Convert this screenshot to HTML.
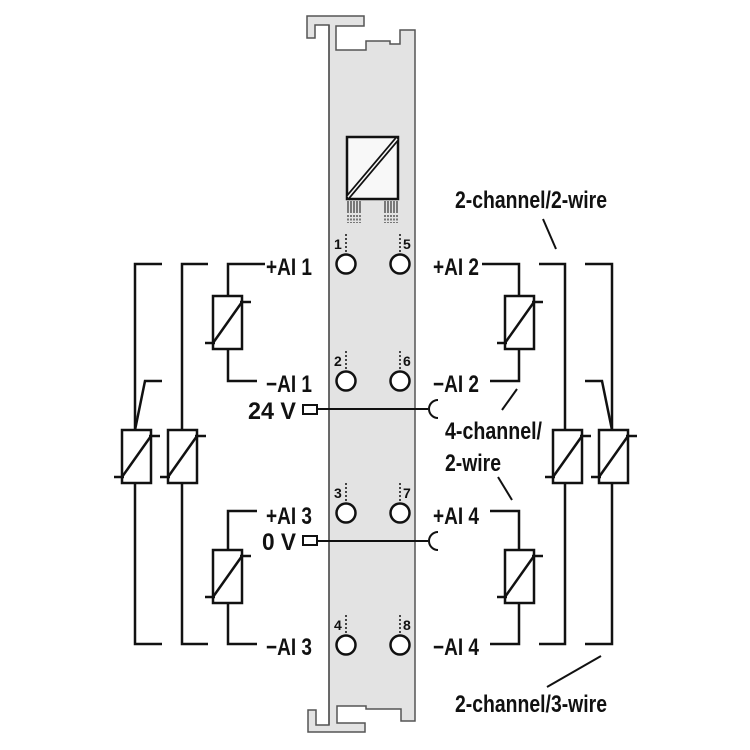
<!DOCTYPE html>
<html><head><meta charset="utf-8"><style>
html,body{margin:0;padding:0;background:#fff}
svg{display:block}
text{font-family:"Liberation Sans",sans-serif;font-size:24px;fill:#111;font-weight:bold}
text.n{font-size:14px}
</style></head><body>
<svg width="750" height="750" viewBox="0 0 750 750" xmlns="http://www.w3.org/2000/svg">
<defs>
<g id="res">
<rect x="0" y="0" width="29" height="53" fill="#fff" stroke="#111" stroke-width="2.5"/>
<line x1="0" y1="47" x2="29" y2="6" stroke="#111" stroke-width="2.5"/>
<line x1="-8" y1="47" x2="2" y2="47" stroke="#111" stroke-width="2.5"/>
<line x1="27" y1="6" x2="38" y2="6" stroke="#111" stroke-width="2.5"/>
</g>
<g id="side" fill="none" stroke="#111" stroke-width="2.5">
<polyline points="265,264 228,264 228,297"/>
<polyline points="228,349 228,381 257,381"/>
<polyline points="257,511 228,511 228,550"/>
<polyline points="228,604 228,644 257,644"/>
<polyline points="208,264 182,264 182,430"/>
<polyline points="182,483 182,644 208,644"/>
<polyline points="162,264 135,264 135,430"/>
<polyline points="162,381 145,381 135,430"/>
<polyline points="135,483 135,644 162,644"/>
</g>
</defs>
<path d="M329,25 L315,25 L315,38 L307,38 L307,16 L364,16 L364,26 L336,26 L336,50 L366,50 L366,41 L390,41 L390,44 L400,44 L400,30 L415,30 L415,721 L401,721 L401,709 L366,709 L366,706 L337,706 L337,723 L365,723 L365,732 L308,732 L308,710 L316,710 L316,725 L329,725 Z" fill="#e3e3e3" stroke="#555" stroke-width="1.5"/>
<line x1="329" y1="25" x2="329" y2="725" stroke="#555" stroke-width="1.5"/>
<rect x="347" y="137" width="51" height="62" fill="#f8f8f8" stroke="#111" stroke-width="2.5"/>
<line x1="348" y1="197" x2="397" y2="139" stroke="#111" stroke-width="5"/>
<line x1="348" y1="197" x2="397" y2="139" stroke="#f8f8f8" stroke-width="1.5"/>
<g stroke="#333" stroke-width="1.2">
<path d="M348,201v12M351,201v12M354,201v12M357,201v12M360,201v12M385,201v12M388,201v12M391,201v12M394,201v12M397,201v12" />
<path d="M348,215v8M351,215v8M354,215v8M357,215v8M360,215v8M385,215v8M388,215v8M391,215v8M394,215v8M397,215v8" stroke-dasharray="2,1.5"/>
</g>
<g fill="#fff" stroke="#111" stroke-width="2.5">
<circle cx="346" cy="264" r="9.5"/><circle cx="400" cy="264" r="9.5"/>
<circle cx="346" cy="381" r="9.5"/><circle cx="400" cy="381" r="9.5"/>
<circle cx="346" cy="513" r="9.5"/><circle cx="400" cy="513" r="9.5"/>
<circle cx="346" cy="645" r="9.5"/><circle cx="400" cy="645" r="9.5"/>
</g>
<g stroke="#111" stroke-width="1.5" stroke-dasharray="2,2">
<path d="M346,234v20M400,234v20M346,351v20M400,351v20M346,483v20M400,483v20M346,615v20M400,615v20"/>
</g>
<text class="n" x="334" y="249">1</text><text class="n" x="403" y="249">5</text>
<text class="n" x="334" y="366">2</text><text class="n" x="403" y="366">6</text>
<text class="n" x="334" y="498">3</text><text class="n" x="403" y="498">7</text>
<text class="n" x="334" y="630">4</text><text class="n" x="403" y="630">8</text>
<rect x="303" y="405" width="14" height="9" fill="#fff" stroke="#111" stroke-width="2"/>
<line x1="317" y1="409" x2="428" y2="409" stroke="#111" stroke-width="2"/>
<path d="M438,400 A9,9 0 0 0 438,418" fill="none" stroke="#111" stroke-width="2"/>
<rect x="303" y="536" width="14" height="9" fill="#fff" stroke="#111" stroke-width="2"/>
<line x1="317" y1="541" x2="428" y2="541" stroke="#111" stroke-width="2"/>
<path d="M438,532 A9,9 0 0 0 438,550" fill="none" stroke="#111" stroke-width="2"/>
<use href="#side"/>
<use href="#side" transform="translate(747,0) scale(-1,1)"/>
<use href="#res" x="213" y="296"/>
<use href="#res" x="213" y="550"/>
<use href="#res" x="168" y="430"/>
<use href="#res" x="122" y="430"/>
<use href="#res" x="505" y="296"/>
<use href="#res" x="505" y="550"/>
<use href="#res" x="553" y="430"/>
<use href="#res" x="599" y="430"/>
<g text-anchor="end">
<text x="312" y="275" textLength="46" lengthAdjust="spacingAndGlyphs">+AI 1</text>
<text x="312" y="392" textLength="46" lengthAdjust="spacingAndGlyphs">−AI 1</text>
<text x="296" y="419" textLength="48" lengthAdjust="spacingAndGlyphs">24 V</text>
<text x="312" y="524" textLength="46" lengthAdjust="spacingAndGlyphs">+AI 3</text>
<text x="296" y="550" textLength="34" lengthAdjust="spacingAndGlyphs">0 V</text>
<text x="312" y="655" textLength="46" lengthAdjust="spacingAndGlyphs">−AI 3</text>
</g>
<text x="433" y="275" textLength="46" lengthAdjust="spacingAndGlyphs">+AI 2</text>
<text x="433" y="392" textLength="46" lengthAdjust="spacingAndGlyphs">−AI 2</text>
<text x="433" y="524" textLength="46" lengthAdjust="spacingAndGlyphs">+AI 4</text>
<text x="433" y="655" textLength="46" lengthAdjust="spacingAndGlyphs">−AI 4</text>
<text x="455" y="208" textLength="152" lengthAdjust="spacingAndGlyphs">2-channel/2-wire</text>
<text x="445" y="439" textLength="97" lengthAdjust="spacingAndGlyphs">4-channel/</text>
<text x="445" y="471" textLength="56" lengthAdjust="spacingAndGlyphs">2-wire</text>
<text x="455" y="712" textLength="152" lengthAdjust="spacingAndGlyphs">2-channel/3-wire</text>
<g stroke="#111" stroke-width="2">
<line x1="543" y1="219" x2="556" y2="249"/>
<line x1="517" y1="389" x2="502" y2="410"/>
<line x1="498" y1="477" x2="512" y2="500"/>
<line x1="601" y1="656" x2="547" y2="687"/>
</g>
</svg>
</body></html>
